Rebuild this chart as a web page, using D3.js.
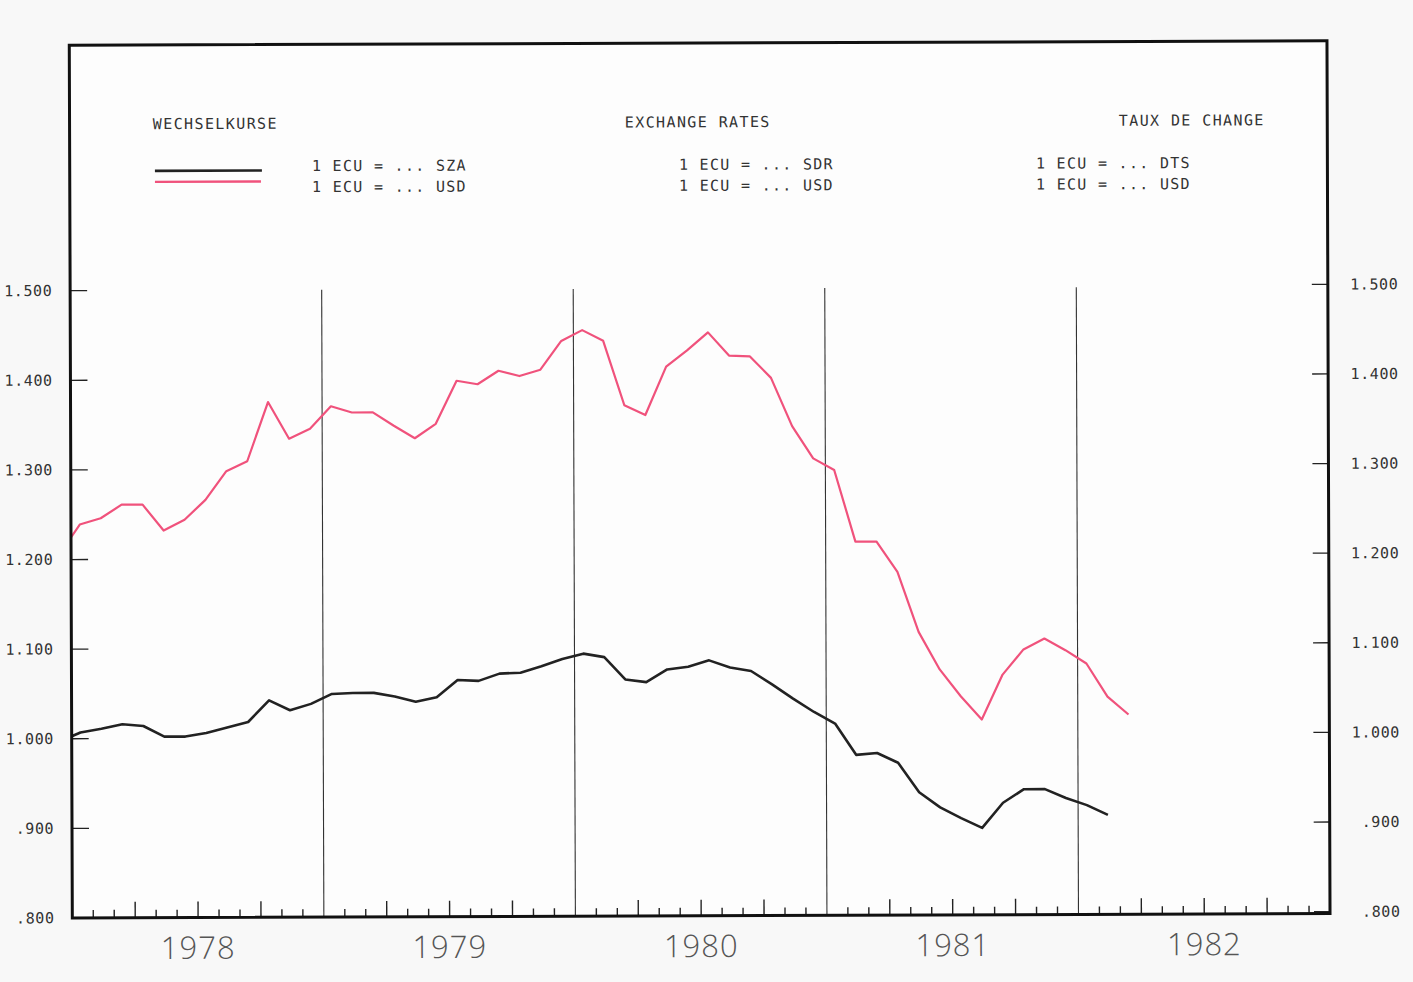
<!DOCTYPE html>
<html><head><meta charset="utf-8">
<script src="https://cdn.jsdelivr.net/npm/d3@7"></script>
<style>
html,body{margin:0;padding:0;background:#f8f8f8;}
svg{display:block;}
text{font-family:"DejaVu Sans Mono","Liberation Mono",monospace;fill:#333;}
</style></head>
<body>
<svg id="chart" width="1413" height="982"></svg>
<script>
// ---- data (monthly, first value = Dec 1977) ----
const firstMonth = "Dec 1977";
const usdValues = [1.205, 1.239, 1.246, 1.261, 1.261, 1.232, 1.244, 1.266, 1.298, 1.309, 1.375, 1.334, 1.345,
  1.370, 1.363, 1.363, 1.348, 1.334, 1.350, 1.398, 1.394, 1.409, 1.403, 1.410, 1.442,
  1.454, 1.442, 1.370, 1.359, 1.413, 1.431, 1.451, 1.425, 1.424, 1.400, 1.346, 1.310,
  1.297, 1.217, 1.217, 1.183, 1.116, 1.074, 1.044, 1.018, 1.068, 1.096, 1.108, 1.095,
  1.080, 1.043, 1.023];
const sdrValues = [0.997, 1.007, 1.011, 1.016, 1.014, 1.002, 1.002, 1.006, 1.012, 1.018, 1.042, 1.031, 1.038,
  1.049, 1.050, 1.050, 1.046, 1.040, 1.045, 1.064, 1.063, 1.071, 1.072, 1.079, 1.087,
  1.093, 1.089, 1.064, 1.061, 1.075, 1.078, 1.085, 1.077, 1.073, 1.058, 1.042, 1.027,
  1.014, 0.979, 0.981, 0.970, 0.937, 0.920, 0.908, 0.897, 0.925, 0.940, 0.940, 0.930,
  0.922, 0.911];
const years = ["1978", "1979", "1980", "1981", "1982"];
const yTicks = [0.8, 0.9, 1.0, 1.1, 1.2, 1.3, 1.4, 1.5];
const yTickLabels = [".800", ".900", "1.000", "1.100", "1.200", "1.300", "1.400", "1.500"];
const titles = ["WECHSELKURSE", "EXCHANGE RATES", "TAUX DE CHANGE"];
const legendSdr = ["1 ECU = ... SZA", "1 ECU = ... SDR", "1 ECU = ... DTS"];
const legendUsd = ["1 ECU = ... USD", "1 ECU = ... USD", "1 ECU = ... USD"];
const colors = {sdr: "#222222", usd: "#f0527c"};

// ---- layout ----
const frame = {left: 70.8, right: 1328.5, top: 43, bottom: 915.8};
const svg = d3.select("#chart");
const g = svg.append("g").attr("transform", "rotate(-0.2,700,480)");

const x = d3.scaleLinear().domain([0, 60]).range([frame.left, frame.right]);
const y = d3.scaleLinear().domain([0.8, 1.5]).range([915.8, 288.5]);
const pointOffset = 0.42; // position of monthly observation within the month
const mx = i => x(i - 1 + pointOffset);

// plot background
g.append("rect").attr("x", frame.left).attr("y", frame.top)
  .attr("width", frame.right - frame.left).attr("height", frame.bottom - frame.top)
  .attr("fill", "#fdfdfd");

// year separator lines
g.selectAll("line.year").data(d3.range(1, years.length)).join("line")
  .attr("x1", d => x(d * 12)).attr("x2", d => x(d * 12))
  .attr("y1", y(1.5)).attr("y2", frame.bottom)
  .attr("stroke", "#333").attr("stroke-width", 1.1);

// bottom month ticks
const monthTicks = d3.range(1, 60).filter(m => m % 12 !== 0);
g.selectAll("line.mt").data(monthTicks).join("line")
  .attr("x1", d => x(d)).attr("x2", d => x(d))
  .attr("y1", frame.bottom).attr("y2", d => frame.bottom - (d % 3 === 0 ? 16 : 8))
  .attr("stroke", "#222").attr("stroke-width", 1.4);

// left & right y ticks
g.selectAll("line.lt").data(yTicks).join("line")
  .attr("x1", frame.left).attr("x2", frame.left + 17)
  .attr("y1", d => y(d)).attr("y2", d => y(d))
  .attr("stroke", "#222").attr("stroke-width", 1.3);
g.selectAll("line.rt").data(yTicks).join("line")
  .attr("x1", frame.right).attr("x2", frame.right - 16)
  .attr("y1", d => y(d) - 2).attr("y2", d => y(d) - 2)
  .attr("stroke", "#222").attr("stroke-width", 1.3);

// y labels
g.selectAll("text.yl").data(yTicks).join("text")
  .attr("x", 53).attr("y", d => y(d)).attr("dy", "0.35em")
  .attr("text-anchor", "end").attr("font-size", 15).attr("letter-spacing", 0.6)
  .text((d, i) => yTickLabels[i]);
g.selectAll("text.yr").data(yTicks).join("text")
  .attr("x", 1399).attr("y", d => y(d) - 2).attr("dy", "0.35em")
  .attr("text-anchor", "end").attr("font-size", 15).attr("letter-spacing", 0.6)
  .text((d, i) => yTickLabels[i]);

// year labels
g.selectAll("text.year").data(years).join("text")
  .attr("x", (d, i) => x(i * 12 + 6)).attr("y", 957)
  .attr("text-anchor", "middle")
  .style("font-family", "'Open Sans','DejaVu Sans',sans-serif")
  .style("font-weight", 300)
  .attr("font-size", 31).style("fill", "#555").attr("letter-spacing", 1)
  .text(d => d);

// clip for series
g.append("clipPath").attr("id", "plotclip").append("rect")
  .attr("x", frame.left).attr("y", frame.top)
  .attr("width", frame.right - frame.left).attr("height", frame.bottom - frame.top);

const line = d3.line().x((d, i) => mx(i)).y(d => y(d));
const series = g.append("g").attr("clip-path", "url(#plotclip)");
series.append("path").datum(usdValues).attr("d", line)
  .attr("fill", "none").attr("stroke", colors.usd).attr("stroke-width", 2.2)
  .attr("stroke-linejoin", "round");
series.append("path").datum(sdrValues).attr("d", line)
  .attr("fill", "none").attr("stroke", colors.sdr).attr("stroke-width", 2.6)
  .attr("stroke-linejoin", "round");

// frame
g.append("rect").attr("x", frame.left).attr("y", frame.top)
  .attr("width", frame.right - frame.left).attr("height", frame.bottom - frame.top)
  .attr("fill", "none").attr("stroke", "#111").attr("stroke-width", 3);

// titles and legend texts
const titleX = [154, 626, 1120];
const legendX = [313, 680, 1037];
g.selectAll("text.title").data(titles).join("text")
  .attr("x", (d, i) => titleX[i]).attr("y", 122).attr("dy", "0.35em")
  .attr("font-size", 15).attr("letter-spacing", 1.4).text(d => d);
g.selectAll("text.ls").data(legendSdr).join("text")
  .attr("x", (d, i) => legendX[i]).attr("y", 164.5).attr("dy", "0.35em")
  .attr("font-size", 15).attr("letter-spacing", 1.3).attr("xml:space", "preserve").text(d => d);
g.selectAll("text.lu").data(legendUsd).join("text")
  .attr("x", (d, i) => legendX[i]).attr("y", 185.5).attr("dy", "0.35em")
  .attr("font-size", 15).attr("letter-spacing", 1.3).attr("xml:space", "preserve").text(d => d);

// legend line samples
g.append("line").attr("x1", 156).attr("x2", 263).attr("y1", 169).attr("y2", 169)
  .attr("stroke", colors.sdr).attr("stroke-width", 2.6);
g.append("line").attr("x1", 156).attr("x2", 262).attr("y1", 180).attr("y2", 180)
  .attr("stroke", colors.usd).attr("stroke-width", 2.4);
</script>
</body></html>
